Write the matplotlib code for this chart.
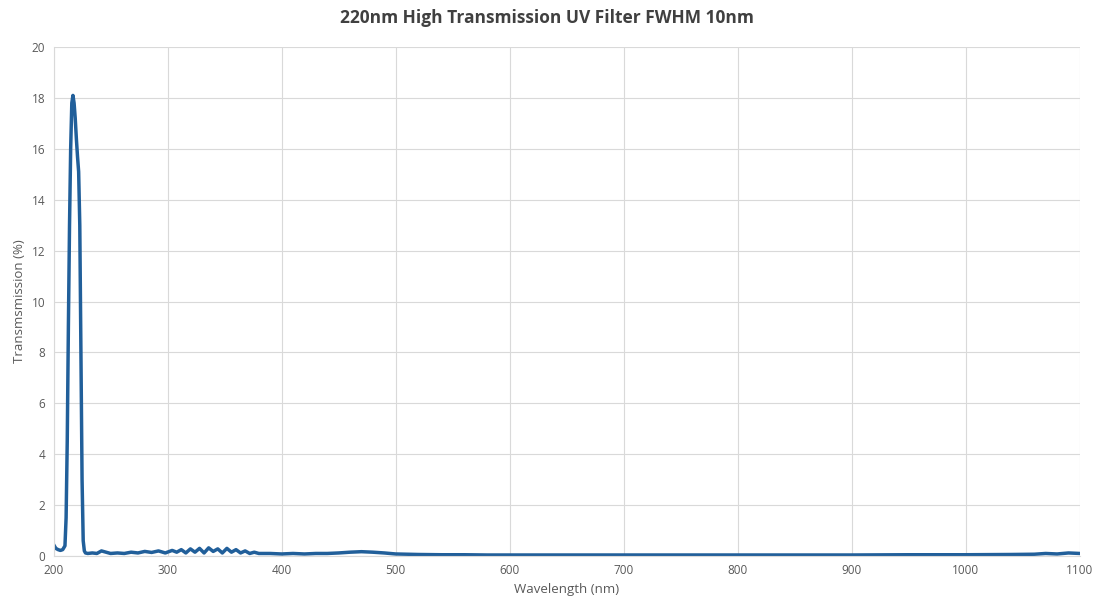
import matplotlib.pyplot as plt

plt.rcParams['font.family'] = ['Open Sans', 'DejaVu Sans']

wavelength = [200, 202, 204, 206, 208, 210, 211, 212, 213, 214, 215, 216, 217, 218, 219, 220,
              221, 222, 223, 224, 225, 226, 227, 228, 230, 234, 238, 242, 246, 250, 256, 262,
              268, 274, 280, 286, 292, 298, 304, 308, 312, 316, 320, 324, 328, 332, 336, 340,
              344, 348, 352, 356, 360, 364, 368, 372, 376, 380, 390, 400, 410, 420, 430, 440,
              450, 460, 470, 480, 490, 500, 510, 520, 540, 560, 580, 600, 650, 700, 750, 800,
              850, 900, 950, 1000, 1040, 1060, 1070, 1080, 1090, 1100]
transmission = [0.45, 0.3, 0.25, 0.22, 0.25, 0.4, 1.5, 4.5, 9.0, 13.0, 16.0, 17.8, 18.1, 17.8,
                17.2, 16.4, 15.7, 15.1, 13.0, 8.0, 3.0, 0.6, 0.2, 0.12, 0.1, 0.12, 0.1, 0.2,
                0.15, 0.1, 0.12, 0.1, 0.15, 0.12, 0.18, 0.14, 0.2, 0.12, 0.22, 0.15, 0.25,
                0.12, 0.28, 0.15, 0.3, 0.12, 0.32, 0.18, 0.28, 0.12, 0.3, 0.15, 0.25, 0.12,
                0.2, 0.1, 0.15, 0.1, 0.1, 0.08, 0.1, 0.08, 0.1, 0.1, 0.12, 0.15, 0.17, 0.15,
                0.12, 0.08, 0.07, 0.06, 0.05, 0.05, 0.04, 0.04, 0.04, 0.04, 0.04, 0.04, 0.04,
                0.04, 0.05, 0.05, 0.06, 0.07, 0.1, 0.08, 0.12, 0.1]

fig = plt.figure(figsize=(10.93, 6.11), dpi=100)
ax = fig.add_axes([0.049, 0.09, 0.939, 0.833])
ax.plot(wavelength, transmission, color='#215f9a', linewidth=2.5)
ax.set_xlim(200, 1100)
ax.set_ylim(0, 20)
ax.set_xticks(range(200, 1101, 100))
ax.set_yticks(range(0, 21, 2))
ax.grid(True, color='#d9d9d9', linewidth=0.8)
ax.set_axisbelow(True)
for s in ['top', 'right']:
    ax.spines[s].set_visible(False)
for s in ['left', 'bottom']:
    ax.spines[s].set_color('#d9d9d9')
ax.tick_params(length=0, labelsize=8.5, colors='#595959', pad=6)
ax.set_xlabel('Wavelength (nm)', fontsize=9.5, color='#595959')
ax.set_ylabel('Transmsmission (%)', fontsize=9.5, color='#595959')
fig.suptitle('220nm High Transmission UV Filter FWHM 10nm', fontsize=12.5, fontweight='bold',
             color='#404040', y=0.985)
fig.savefig('out.png')
